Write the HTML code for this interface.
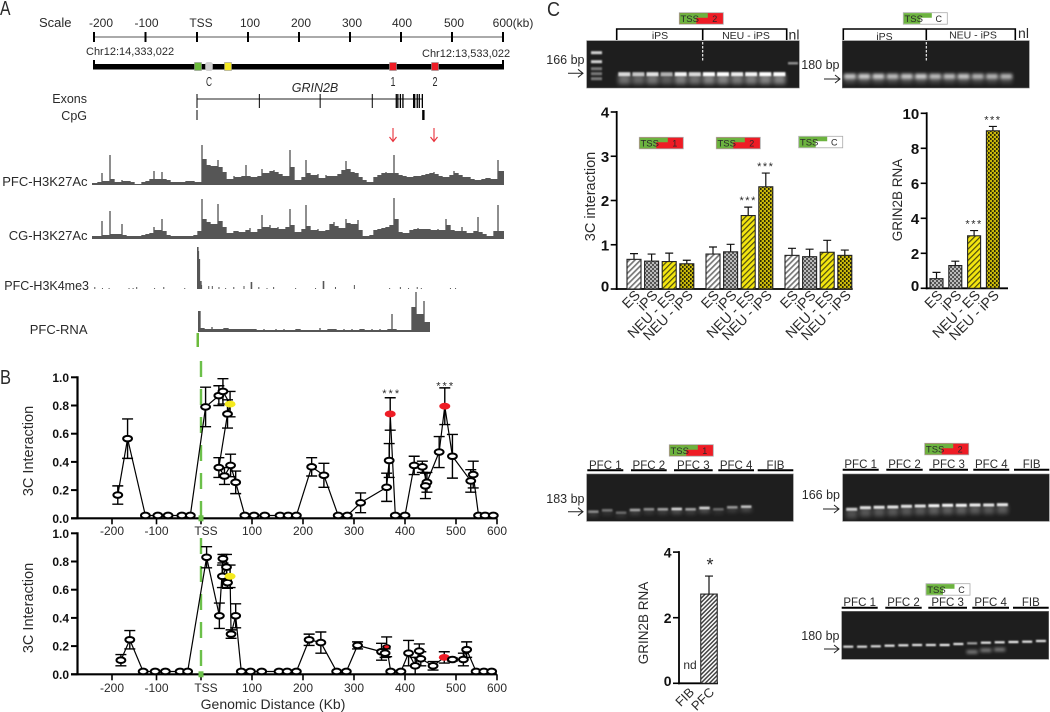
<!DOCTYPE html>
<html lang="en">
<head>
<meta charset="utf-8">
<title>GRIN2B 3C interaction figure</title>
<style>
html,body{margin:0;padding:0;background:#fff;}
svg{display:block;font-family:"Liberation Sans",sans-serif;}
text{fill:#2a2a2a;}
.bold{font-weight:bold;fill:#111;}
</style>
</head>
<body>
<svg id="fig" width="1050" height="712" viewBox="0 0 1050 712" xmlns="http://www.w3.org/2000/svg">
<defs>
<filter id="soft" x="-5%" y="-5%" width="110%" height="110%"><feGaussianBlur stdDeviation="0.35"/></filter>
<filter id="blur1" x="-50%" y="-300%" width="200%" height="700%"><feGaussianBlur stdDeviation="0.9"/></filter>
<filter id="blur15" x="-50%" y="-300%" width="200%" height="700%"><feGaussianBlur stdDeviation="1.5"/></filter>
<filter id="blur2" x="-50%" y="-200%" width="200%" height="500%"><feGaussianBlur stdDeviation="2.2"/></filter>
<pattern id="p-grey-diag" width="4" height="4" patternUnits="userSpaceOnUse" patternTransform="rotate(-45)"><rect width="4" height="4" fill="#fff"/><rect width="4" height="1.7" fill="#777"/></pattern>
<pattern id="p-grey-cross" width="4" height="4" patternUnits="userSpaceOnUse"><rect width="4" height="4" fill="#bbb"/><rect width="2" height="2" fill="#555"/><rect x="2" y="2" width="2" height="2" fill="#555"/></pattern>
<pattern id="p-yellow-diag" width="4" height="4" patternUnits="userSpaceOnUse" patternTransform="rotate(-45)"><rect width="4" height="4" fill="#f4e60f"/><rect width="4" height="1.2" fill="#4a4a10"/></pattern>
<pattern id="p-yellow-dots" width="4" height="4" patternUnits="userSpaceOnUse"><rect width="4" height="4" fill="#c9b80a"/><rect width="1.6" height="2" fill="#2c2a05"/><rect x="2" y="2" width="1.6" height="2" fill="#2c2a05"/></pattern>
<pattern id="p-fine-diag" width="3" height="3" patternUnits="userSpaceOnUse" patternTransform="rotate(-45)"><rect width="3" height="3" fill="#fff"/><rect width="3" height="1.5" fill="#444"/></pattern>
</defs>

<!-- Panel letters -->
<text x="0" y="15" font-size="20" textLength="10.500" lengthAdjust="spacingAndGlyphs">A</text>
<text x="0" y="384" font-size="20" textLength="11" lengthAdjust="spacingAndGlyphs">B</text>
<text x="547" y="16" font-size="20" textLength="13" lengthAdjust="spacingAndGlyphs">C</text>

<!-- Panel A static text -->
<text x="39" y="27" font-size="13">Scale</text>
<text x="86" y="55" font-size="11">Chr12:14,333,022</text>
<text x="422" y="57" font-size="11">Chr12:13,533,022</text>
<rect x="93" y="64" width="411" height="5.5" fill="#000"/>
<rect x="93" y="60" width="2" height="9" fill="#000"/>
<rect x="502" y="60" width="2" height="9" fill="#000"/>
<rect x="194.500" y="62.500" width="7" height="8" fill="#6cbb3c" stroke="#999" stroke-width="0.6"/>
<rect x="205.500" y="62.500" width="7" height="8" rx="2" fill="#d0d0d0" stroke="#bbb" stroke-width="0.6"/>
<rect x="224.500" y="62.500" width="7" height="8" fill="#f5e926" stroke="#999" stroke-width="0.6"/>
<rect x="389.500" y="62.500" width="7" height="8" fill="#ee1c25" stroke="#999" stroke-width="0.6"/>
<rect x="431.500" y="62.500" width="7" height="8" fill="#ee1c25" stroke="#999" stroke-width="0.6"/>
<text x="209" y="86" font-size="13" text-anchor="middle" textLength="6" lengthAdjust="spacingAndGlyphs">C</text>
<text x="393" y="86" font-size="13" text-anchor="middle" textLength="5" lengthAdjust="spacingAndGlyphs">1</text>
<text x="435" y="86" font-size="13" text-anchor="middle" textLength="5" lengthAdjust="spacingAndGlyphs">2</text>
<text x="315" y="92" font-size="12.500" font-style="italic" text-anchor="middle">GRIN2B</text>
<text x="87" y="103" font-size="12.500" text-anchor="end">Exons</text>
<text x="87" y="120" font-size="12.500" text-anchor="end">CpG</text>
<text x="87.500" y="186" font-size="13" text-anchor="end">PFC-H3K27Ac</text>
<text x="87.500" y="240" font-size="13" text-anchor="end">CG-H3K27Ac</text>
<text x="89" y="290" font-size="12.500" text-anchor="end">PFC-H3K4me3</text>
<text x="87.500" y="334" font-size="13" text-anchor="end">PFC-RNA</text>
<g stroke="#e8303a" fill="none" stroke-width="1.1">
<path d="M393 128V141M389.500 137L393 141.500L396.500 137"/>
<path d="M434 128V141M430.500 137L434 141.500L437.500 137"/>
</g>
<rect x="196.500" y="333" width="2.500" height="14" fill="#6cbb3c"/>

<!-- Panel B static -->
<text transform="translate(33,451) rotate(-90)" font-size="14.500" text-anchor="middle">3C Interaction</text>
<text transform="translate(33,608) rotate(-90)" font-size="14.500" text-anchor="middle">3C Interaction</text>
<text x="273" y="709" font-size="14" text-anchor="middle">Genomic Distance (Kb)</text>
<text x="391.700" y="397" font-size="11" text-anchor="middle" letter-spacing="2">***</text>
<text x="445.700" y="389.500" font-size="11" text-anchor="middle" letter-spacing="2">***</text>

<!-- Panel C static -->
<text transform="translate(595,196.500) rotate(-90)" font-size="14.500" text-anchor="middle">3C interaction</text>
<text transform="translate(902,200) rotate(-90)" font-size="13.500" text-anchor="middle">GRIN2B RNA</text>
<text transform="translate(648,623) rotate(-90)" font-size="13.500" text-anchor="middle">GRIN2B RNA</text>
<text x="690" y="669" font-size="12" text-anchor="middle">nd</text>
<text x="710" y="571" font-size="18" text-anchor="middle">*</text>

<text x="584.500" y="64" font-size="12.500" text-anchor="end">166 bp</text>
<text x="839.500" y="69" font-size="12.500" text-anchor="end">180 bp</text>
<text x="584.500" y="503" font-size="12.500" text-anchor="end">183 bp</text>
<text x="840" y="499" font-size="12.500" text-anchor="end">166 bp</text>
<text x="839.500" y="640" font-size="12.500" text-anchor="end">180 bp</text>

<g id="layer"></g>
</svg>

<script>
// ---------- Panel A data ----------
const scaleKb = [-200, -100, 0, 100, 200, 300, 400, 500, 600];
const scaleLabels = ['-200', '-100', 'TSS', '100', '200', '300', '400', '500', '600(kb)'];
const pfcH3k27ac = [2,3,12,4,30,6,3,5,4,4,3,1,3,4,6,14,6,13,6,5,3,3,3,4,4,4,3,40,26,20,19,25,18,13,6,9,8,9,20,9,8,9,16,12,14,15,13,11,9,35,18,5,8,25,12,10,11,7,10,9,9,11,15,24,16,13,12,8,5,3,8,10,12,13,12,30,12,10,9,8,9,9,10,11,12,13,11,9,8,10,14,12,10,8,8,6,5,6,7,7,6,25,14];
const cgH3k27ac = [3,3,18,4,28,5,5,15,4,3,3,3,4,5,6,12,9,20,8,4,3,3,3,3,3,4,8,40,20,17,15,35,18,12,6,8,8,7,9,11,7,10,24,12,14,11,12,10,12,30,14,7,10,34,13,9,10,8,9,15,17,13,11,20,16,15,19,9,3,4,9,10,11,12,14,41,20,7,6,9,10,11,10,10,10,9,10,9,20,14,9,8,12,8,6,8,22,7,5,3,8,34,8];
const k4me3Kb = [-201,-186,-173,-134,-126,-119,-84,-66,-25,0,1,3,6,8,22,29,42,55,71,91,105,120,136,149,192,231,246,270,307,376,397,413,430,438,495,505];
const k4me3Height = [2,1,1,1,1,2,1,2,1,42,38,30,8,4,3,3,2,1,2,3,7,2,1,2,1,1,8,2,4,1,2,1,2,1,1,1];
const pfcRna = [21,4,3,5,3,3,4,4,3,3,3,3,3,3,3,2,3,2,2,3,2,3,2,2,3,3,2,2,2,2,4,2,3,3,3,2,3,2,3,2,3,3,2,3,2,3,2,3,18,3,2,2,2,25,40,18,31,10];
const exonKb = [0,122,241,343,390,393,398,403,424,426,431,435,441];
const cpgKb = [0,443];

// ---------- Panel B data ----------
const tickKb = [-200,-100,0,100,200,300,400,500,600];
const tickLabels = ['-200','-100','TSS','100','200','300','400','500','600'];
const yTicks = [0,0.2,0.4,0.6,0.8,1];
const topKb = [-187,-165,-125,-97,-74,-43,-24,9,35,43,57,52,35,46,58,68,86,104,125,155,171,187,217,241,269,287,313,364,369,371,381,400,418,434,443,440,467,478,493,536,542,555,571,591];
const topVal = [0.165,0.565,0.02,0.02,0.02,0.02,0.02,0.79,0.87,0.90,0.81,0.74,0.36,0.30,0.375,0.255,0.02,0.02,0.02,0.02,0.02,0.02,0.365,0.305,0.02,0.02,0.11,0.22,0.41,0.74,0.02,0.02,0.375,0.365,0.255,0.23,0.47,0.795,0.44,0.265,0.31,0.02,0.02,0.02];
const topErr = [0.065,0.14,0,0,0,0,0,0.14,0.07,0.09,0.09,0.10,0.07,0.06,0.08,0.08,0,0,0,0,0,0,0.065,0.085,0,0,0.07,0.10,0.12,0.115,0,0,0.065,0.04,0.07,0.09,0.11,0.13,0.155,0.08,0.095,0,0,0];
const topColor = ['','','','','','','','','','','y','','','','','','','','','','','','','','','','','','','r','','','','','','','','r','','','','','',''];
const botKb = [-180,-160,-130,-103,-80,-47,-30,11,36,43,42,50,52,57,59,68,79,97,119,153,169,187,212,235,266,285,307,354,361,364,372,392,407,420,428,431,455,477,493,518,526,549,568,587];
const botVal = [0.10,0.245,0.02,0.02,0.02,0.02,0.02,0.83,0.415,0.82,0.695,0.76,0.65,0.695,0.285,0.415,0.02,0.02,0.02,0.02,0.02,0.02,0.245,0.225,0.02,0.02,0.205,0.16,0.15,0.195,0.02,0.02,0.15,0.06,0.165,0.11,0.06,0.12,0.105,0.105,0.175,0.02,0.02,0.02];
const botErr = [0.04,0.065,0,0,0,0,0,0.075,0.09,0.03,0.08,0.09,0.04,0.08,0.03,0.085,0,0,0,0,0,0,0.04,0.075,0,0,0.025,0.06,0.03,0.07,0,0,0.09,0.06,0.05,0.05,0.03,0.04,0.01,0.045,0.055,0,0,0];
const botColor = ['','','','','','','','','','','','','','y','','','','','','','','','','','','','','','','s','','','','','','','','r','','','','','',''];

// ---------- Panel C bar data ----------
const barCategories = ['ES','iPS','NEU - ES','NEU - iPS'];
const c3Values = [[0.67,0.63,0.62,0.57],[0.79,0.84,1.66,2.31],[0.76,0.73,0.83,0.76]];
const c3Errors = [[0.13,0.16,0.19,0.08],[0.16,0.17,0.19,0.31],[0.16,0.17,0.27,0.12]];
const c3Stars = [[0,0,0,0],[0,0,1,1],[0,0,0,0]];
const c3Ticks = [0,1,2,3,4];
const rnaValues = [0.55,1.3,3.0,9.0];
const rnaErrors = [0.36,0.25,0.3,0.25];
const rnaStars = [0,0,1,1];
const rnaTicks = [0,2,4,6,8,10];
const pfcValues = [2.72];
const pfcErrors = [0.55];
const pfcTicks = [0,2,4];

// ---------- Gel band intensities ----------
const gelA = [0.8,0.7,0.85,0.6,0.95,0.8,1,1,0.9,0.95,1,1];
const gelB = [0.75,0.78,0.78,0.7,0.75,0.78,0.7,0.7,0.75,0.66,0.66,0.66];
const gelC = [0.45,0.35,0.3,0.55,0.45,0.55,0.8,0.55,0.8,0.3,0.5,0.7];
const gelD = [0.75,0.85,0.85,0.85,0.85,0.85,0.95,0.95,0.95,0.9,0.85,0.9];
const gelE = [0.85,0.85,0.85,0.9,0.9,0.9,0.9,0.95,0.9,0.6,0.9,0.9,0.95,0.9,0.9];

const NS = 'http://www.w3.org/2000/svg';
const layer = document.getElementById('layer');
function mk(tag, a, parent) {
  const e = document.createElementNS(NS, tag);
  for (const k in a) e.setAttribute(k, a[k]);
  (parent || layer).appendChild(e);
  return e;
}

// ---------- scales ----------
const trackX = kb => 197 + 0.511 * kb;
const plotX = kb => kb < 0 ? 201 + 0.445 * kb : kb <= 500 ? 201 + 0.51 * kb : 456 + 0.41 * (kb - 500);
const topY = v => 518.3 - 141 * v;
const botY = v => 674.3 - 141 * v;
const c3Y = v => 289 - 44.25 * v;
const rnaY = v => 288.3 - 17.5 * v;
const pfcY = v => 683.3 - 32.8 * v;

// ---------- Scale ruler ----------
const ruler = mk('g', {});


mk('line', {x1:94, x2:503, y1:37, y2:37, stroke:'#777', 'stroke-width':1.2}, ruler);
const labelShift = [7, 1, 4, 2, 2, 2, 1, 2, 10];
scaleKb.forEach((k, i) => {
  const x = 197 + (k < 0 ? 0.515 : 0.51) * k;
  const tk = mk('line', {x1:x, x2:x, y1:32, y2:42, stroke:'#000', 'stroke-width':2}, ruler);
  
  
  const t = mk('text', {x:x + labelShift[i], y:27, 'font-size':12, 'text-anchor':'middle'}, ruler);
  t.textContent = scaleLabels[i];
  
  
});

// ---------- Exons / CpG ----------
const gene = mk('g', {});


mk('line', {x1:trackX(0), x2:trackX(441), y1:99, y2:99, stroke:'#222', 'stroke-width':1}, gene);
exonKb.forEach(k => {
  const ex = mk('line', {x1:trackX(k), x2:trackX(k), y1:94, y2:108, stroke:'#000', 'stroke-width':k > 385 ? 1.3 : 1}, gene);
  
  
});
cpgKb.forEach((k, i) => {
  const c = mk('rect', {x:trackX(k) - (i ? 1.2 : 0.5), y:110, width:i ? 2.4 : 1, height:10, fill:'#000'}, gene);
  
  
});

// ---------- Signal tracks ----------
// each bin is drawn as a narrow spike at its value, with shoulders at the level of its neighbours
function spikyPath(vals, x0, step, base) {
  const sub = step / 3;
  let d = 'M' + x0 + ' ' + base;
  vals.forEach((v, i) => {
    const x = x0 + i * step;
    const left = Math.min(v, i > 0 ? vals[i - 1] : v);
    const right = Math.min(v, i < vals.length - 1 ? vals[i + 1] : v);
    d += 'L' + x + ' ' + (base - left) + 'H' + (x + sub);
    d += 'V' + (base - v) + 'H' + (x + 2 * sub);
    d += 'V' + (base - right) + 'H' + (x + step);
  });
  return d + 'V' + base + 'Z';
}
const t1 = mk('path', {d:spikyPath(pfcH3k27ac, 92, 4, 185), fill:'#565656', filter:'url(#soft)'});


const t2 = mk('path', {d:spikyPath(cgH3k27ac, 92, 4, 239), fill:'#565656', filter:'url(#soft)'});


const t3 = mk('g', {fill:'#565656', filter:'url(#soft)'});


k4me3Kb.forEach((k, i) => {
  const b = mk('rect', {x:trackX(k), y:289 - k4me3Height[i], width:k4me3Height[i] > 5 ? 1.6 : 1, height:k4me3Height[i]}, t3);
  
  
});
const t4 = mk('path', {d:spikyPath(pfcRna, 198, 4, 332), fill:'#565656', filter:'url(#soft)'});



// ---------- Line plots ----------
function linePlot(name, kbs, vals, errs, cols, yFn, labelY, dashTop) {
  const g = mk('g', {});
  
  
  const y0 = yFn(0);
  mk('line', {x1:77.5, x2:77.5, y1:yFn(1) - 1, y2:y0 + 1, stroke:'#000', 'stroke-width':2.2}, g);
  mk('line', {x1:71, x2:497, y1:y0, y2:y0, stroke:'#000', 'stroke-width':2.2}, g);
  yTicks.forEach(v => {
    mk('line', {x1:71, x2:77, y1:yFn(v), y2:yFn(v), stroke:'#000', 'stroke-width':2}, g);
    const t = mk('text', {x:69, y:yFn(v) + 4.5, 'font-size':12, 'text-anchor':'end', class:'bold'}, g);
    t.textContent = v.toFixed(1);
    
    
  });
  tickKb.forEach((k, i) => {
    mk('line', {x1:plotX(k), x2:plotX(k), y1:y0, y2:y0 + 6, stroke:'#000', 'stroke-width':1.6}, g);
    const t = mk('text', {x:plotX(k) + (k === 0 ? 5 : 0), y:labelY, 'font-size':12, 'text-anchor':'middle'}, g);
    t.textContent = tickLabels[i];
    
    
  });
  const dash = mk('line', {x1:plotX(0), x2:plotX(0), y1:dashTop, y2:y0, stroke:'#6cc04a', 'stroke-width':2.4, 'stroke-dasharray':'16 12'}, g);
  
  
  mk('rect', {x:plotX(0) - 2.5, y:y0 - 3, width:5, height:6, fill:'#6cc04a'}, g);
  const pts = kbs.map((k, i) => plotX(k) + ',' + yFn(vals[i])).join(' ');
  const ln = mk('polyline', {points:pts, fill:'none', stroke:'#000', 'stroke-width':1.2}, g);
  
  
  kbs.forEach((k, i) => {
    if (!errs[i]) return;
    const x = plotX(k), a = yFn(vals[i] + errs[i]), b = yFn(vals[i] - errs[i]);
    const eb = mk('path', {d:'M' + (x - 5.5) + ' ' + a + 'H' + (x + 5.5) + 'M' + x + ' ' + a + 'V' + b + 'M' + (x - 5.5) + ' ' + b + 'H' + (x + 5.5), stroke:'#000', 'stroke-width':1.4, fill:'none'}, g);
    
    
  });
  kbs.forEach((k, i) => {
    const c = cols[i];
    const fill = c === 'y' ? '#f5ea1e' : (c === 'r' || c === 's') ? '#ee1c25' : '#fff';
    const attrs = c === '' ? {rx:4.4, ry:2.8, stroke:'#000', 'stroke-width':2} : c === 's' ? {rx:2.5, ry:1.5, stroke:'none'} : {rx:5.5, ry:3.4, stroke:'none'};
    attrs.cx = plotX(k); attrs.cy = yFn(vals[i]); attrs.fill = fill;
    if (c === 's') {
      const back = mk('ellipse', {cx:attrs.cx, cy:attrs.cy, rx:4.3, ry:2.7, fill:'#000'}, g);
      
      
    }
    const p = mk('ellipse', attrs, g);
    
    
  });
}
linePlot('interaction-plot-top', topKb, topVal, topErr, topColor, topY, 535, 361);
linePlot('interaction-plot-bottom', botKb, botVal, botErr, botColor, botY, 692, 538);

// ---------- Bar charts ----------
const patterns = ['url(#p-grey-diag)','url(#p-grey-cross)','url(#p-yellow-diag)','url(#p-yellow-dots)'];
function drawBar(g, x, w, val, err, fill, yFn, star) {
  const top = yFn(val), base = yFn(0), et = yFn(val + err);
  const ebar = mk('path', {d:'M' + x + ' ' + top + 'V' + et + 'M' + (x - 4) + ' ' + et + 'H' + (x + 4), stroke:'#111', 'stroke-width':1.2, fill:'none'}, g);
  
  
  const r = mk('rect', {x:x - w / 2, y:top, width:w, height:base - top, fill:fill, stroke:'#222', 'stroke-width':1.1}, g);
  
  
  if (star) {
    const s = mk('text', {x:x, y:et - 3, 'font-size':11, 'text-anchor':'middle', 'letter-spacing':1.5}, g);
    s.textContent = '***';
    
    
  }
}
function catLabel(g, x, y, text, size) {
  const t = mk('text', {transform:'translate(' + x + ',' + y + ') rotate(-45)', 'font-size':size, 'text-anchor':'end'}, g);
  t.textContent = text;
  
  
}
function yAxis(g, ax, x2, yFn, ticks, size) {
  mk('line', {x1:ax, x2:ax, y1:yFn(ticks[ticks.length - 1]) - 1, y2:yFn(0) + 1, stroke:'#000', 'stroke-width':1.8}, g);
  mk('line', {x1:ax - 1, x2:x2, y1:yFn(0), y2:yFn(0), stroke:'#000', 'stroke-width':1.8}, g);
  ticks.forEach(v => {
    mk('line', {x1:ax - 6, x2:ax, y1:yFn(v), y2:yFn(v), stroke:'#000', 'stroke-width':1.6}, g);
    const t = mk('text', {x:ax - 7.5, y:yFn(v) + (v === 0 ? 2.5 : 5.5), 'font-size':size, 'text-anchor':'end', class:'bold'}, g);
    t.textContent = v;
    
    
  });
}
const c3Chart = mk('g', {});


yAxis(c3Chart, 616.7, 852.7, c3Y, c3Ticks, 15);
c3Values.forEach((grp, gi) => {
  grp.forEach((v, i) => {
    const x = 634 + gi * 79 + i * 17.6;
    drawBar(c3Chart, x, 14, v, c3Errors[gi][i], patterns[i], c3Y, c3Stars[gi][i]);
    catLabel(c3Chart, x + 7, 296, barCategories[i], 14);
  });
});
const rnaChart = mk('g', {});


yAxis(rnaChart, 926.7, 1008, rnaY, rnaTicks, 15);
rnaValues.forEach((v, i) => {
  const x = 936.5 + i * 18.8;
  drawBar(rnaChart, x, 13, v, rnaErrors[i], patterns[i === 0 ? 1 : i], rnaY, rnaStars[i]);
  catLabel(rnaChart, x + 7, 296, barCategories[i], 14);
});
const pfcChart = mk('g', {});


yAxis(pfcChart, 679, 718, pfcY, pfcTicks, 14);
drawBar(pfcChart, 709, 16.5, pfcValues[0], pfcErrors[0], 'url(#p-fine-diag)', pfcY, 0);
catLabel(pfcChart, 695, 693, 'FIB', 13);
catLabel(pfcChart, 715, 693, 'PFC', 13);

// ---------- Primer constructs ----------
const constructs = [[679.3,12.7,'2','#ee1c25'],[903.3,12.7,'C','#fff'],[639.3,137.3,'1','#ee1c25'],[716.3,137.3,'2','#ee1c25'],[798.7,136.3,'C','#fff'],[669.3,444.7,'1','#ee1c25'],[924.7,443.3,'2','#ee1c25'],[926,583.7,'C','#fff']];
constructs.forEach(c => {
  const g = mk('g', {transform:'translate(' + c[0] + ',' + c[1] + ')'});
  
  
  mk('rect', {x:0, y:0, width:44, height:11.5, fill:c[3], stroke:'#aaa', 'stroke-width':0.8}, g);
  mk('path', {d:'M0.4 0.4H28.5V5H17V11.1H0.4Z', fill:'#6cb33f'}, g);
  const t = mk('text', {x:1.2, y:9.4, 'font-size':9.5}, g);
  t.textContent = 'TSS';
  
  
  const n = mk('text', {x:35.5, y:9.4, 'font-size':9, 'text-anchor':'middle'}, g);
  n.textContent = c[2];
  
  
});

// ---------- Gels ----------
function gel(name, x, y, w, h, x0, step, bandW, bandH, vals, off, smear, bandFilter, smearOp) {
  const g = mk('g', {});
  
  
  mk('rect', {x:x, y:y, width:w, height:h, fill:'#1e1e1e', stroke:'#777', 'stroke-width':0.6}, g);
  const clipId = name + '-clip';
  const cp = mk('clipPath', {id:clipId}, g);
  mk('rect', {x:x, y:y, width:w, height:h}, cp);
  const inner = mk('g', {'clip-path':'url(#' + clipId + ')'}, g);
  vals.forEach((v, i) => {
    const bx = x0 + i * step - bandW / 2, by = y + off(i);
    if (smear) {
      mk('rect', {x:bx, y:by, width:bandW, height:smear, fill:'#fff', opacity:smearOp * v, filter:'url(#blur2)'}, inner);
    }
    const b = mk('rect', {x:bx, y:by - bandH / 2, width:bandW, height:bandH, fill:'#fff', opacity:v, filter:bandFilter}, inner);
    
    
  });
  return inner;
}
const ladderGel = gel('gel-ips-site-2', 586.7, 40.7, 212.6, 47.3, 624.3, 14.1, 12, 4, gelA, i => 33.5, 10, 'url(#blur1)', 0.45);
[12,21,28,33,38].forEach((o, i) => {
  const lb = mk('rect', {x:591, y:40.7 + o - 1.5, width:11, height:3, fill:'#fff', opacity:i < 2 ? 0.8 : 0.4, filter:'url(#blur1)'}, ladderGel);
  
  
});
const nlBand = mk('rect', {x:788, y:62, width:10, height:2.5, fill:'#fff', opacity:0.5, filter:'url(#blur1)'}, ladderGel);


gel('gel-ips-control', 842.3, 40.7, 187, 47.3, 850, 14.2, 12, 5, gelB, i => 35.6, 7, 'url(#blur15)', 0.3);
const gelCOff = [37.7,36.3,38.7,36,35.3,35.3,35,35.3,34,35.3,33.3,32.7];
const gelDOff = [35.3,33.7,33.3,33,32.3,32,31.7,31.3,31.3,31,31,30.7];
const gelEOff = [35.4,35.4,35,34.4,34,33.7,33.7,33.7,32.7,32,31.4,31,30.7,30.4,29.7];
gel('gel-pfc-site-1', 586.7, 474, 206.6, 47.3, 593.3, 13.9, 10.5, 2.6, gelC, i => gelCOff[i], 5, 'url(#blur1)', 0.3);
gel('gel-pfc-site-2', 842.7, 474, 206.6, 47.3, 851.7, 13.7, 11, 3, gelD, i => gelDOff[i], 9, 'url(#blur1)', 0.3);
const ctrlGel = gel('gel-pfc-control', 841.7, 611.3, 207, 48, 848.3, 13.76, 10, 2.2, gelE, i => gelEOff[i], 0, 'url(#blur1)', 0);
[[9,40.4],[10,38.7],[11,38]].forEach(b => {
  const r = mk('rect', {x:848.3 + b[0] * 13.76 - 5.5, y:611.3 + b[1] - 1.5, width:11, height:3.5, fill:'#fff', opacity:0.45, filter:'url(#blur15)'}, ctrlGel);
  
  
});

// dashed dividers
[[702.7],[926.3]].forEach(d => {
  const l = mk('line', {x1:d[0], x2:d[0], y1:42, y2:62, stroke:'#fff', 'stroke-width':1.1, 'stroke-dasharray':'2.500 1.500'});
  
  
});

// iPS brackets and labels
function bracket(x1, xm, x2) {
  const p = mk('path', {d:'M' + x1 + ' 40V29H' + x2 + 'V40M' + xm + ' 29V40', fill:'none', stroke:'#000', 'stroke-width':1.6});
  
  
}
bracket(616.7, 702.7, 786.7);
bracket(843.3, 926.3, 1015.3);
[[660,39,'iPS'],[746,39,'NEU - iPS'],[884.5,40,'iPS'],[973,38.5,'NEU - iPS']].forEach(l => {
  const t = mk('text', {x:l[0], y:l[1], 'font-size':10.5, 'text-anchor':'middle'});
  t.textContent = l[2];
  
  
});
[[794,39.5],[1023.5,38]].forEach(l => {
  const t = mk('text', {x:l[0], y:l[1], 'font-size':14, 'text-anchor':'middle'});
  t.textContent = 'nl';
  
  
});

// PFC / FIB lane headers
const laneNames = ['PFC 1','PFC 2','PFC 3','PFC 4','FIB'];
function laneHeader(ends, lineY, textY) {
  ends.forEach((e, i) => {
    const ln = mk('line', {x1:e[0], x2:e[1], y1:lineY, y2:lineY, stroke:'#000', 'stroke-width':2});
    
    
    const t = mk('text', {x:(e[0] + e[1]) / 2, y:textY, 'font-size':11.5, 'text-anchor':'middle'});
    t.textContent = laneNames[i];
    
    
  });
}
laneHeader([[587.3,623.3],[631,666.7],[674,712.7],[718.3,754],[757.7,793.3]], 470.3, 469);
laneHeader([[842.7,878.7],[886.3,922.7],[929.3,968],[973.3,1009.3],[1014,1049.3]], 469.7, 468);
laneHeader([[841.7,877.7],[885.3,921.7],[928.3,967],[972.3,1009],[1013,1048.7]], 607.7, 606);

// size arrows
[[568,583,73.3],[824,840,79],[568,583,511.7],[823,839,509],[824,839,649]].forEach(a => {
  const p = mk('path', {d:'M' + a[0] + ' ' + a[2] + 'H' + a[1] + 'M' + (a[1] - 5) + ' ' + (a[2] - 4) + 'L' + a[1] + ' ' + a[2] + 'L' + (a[1] - 5) + ' ' + (a[2] + 4), fill:'none', stroke:'#222', 'stroke-width':1});
  
  
});
</script>
</body>
</html>
